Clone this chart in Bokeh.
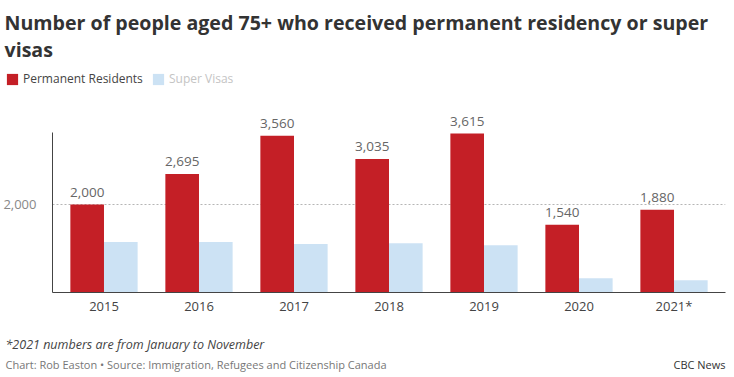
from bokeh.plotting import figure
from bokeh.layouts import column
from bokeh.models import (FactorRange, Range1d, FixedTicker, Label, Legend, LegendItem,
                          ColumnDataSource, NumeralTickFormatter)
from bokeh.transform import dodge
from bokeh.core.properties import value
from bokeh.embed import file_html
from bokeh.resources import INLINE

years = ["2015", "2016", "2017", "2018", "2019", "2020", "2021*"]
permanent_residents = [2000, 2695, 3560, 3035, 3615, 1540, 1880]
super_visas = [1145, 1145, 1100, 1120, 1075, 325, 280]
y_ticks = [2000]

title_lines = ["Number of people aged 75+ who received permanent residency or super", "visas"]
series_names = ["Permanent Residents", "Super Visas"]
footnote = "*2021 numbers are from January to November"
source = "Chart: Rob Easton \u2022 Source: Immigration, Refugees and Citizenship Canada"
brand = "CBC News"

RED = "#c41f26"
BLUE = "#cce2f4"
FONT = "Open Sans"
TITLE_FONT = "Open Sans"
W = 734
SHIFT = 4  # baseline correction


def blank_fig(h):
    f = figure(width=W, height=h, x_range=Range1d(0, W), y_range=Range1d(h, 0),
               output_backend="svg", toolbar_location=None, title=None,
               x_axis_location=None, y_axis_location=None,
               min_border=0, min_border_left=0, min_border_right=0,
               min_border_top=0, min_border_bottom=0)
    f.frame_align = False
    f.outline_line_color = None
    f.xgrid.visible = False
    f.ygrid.visible = False
    f.background_fill_color = "white"
    f.border_fill_color = "white"
    return f


def add_text(f, txt, x, y, size, color, style="normal", align="left", font=FONT):
    f.add_layout(Label(x=x, y=y - SHIFT, text=txt, text_font=font, text_font_size=size,
                       text_color=color, text_font_style=style, text_align=align,
                       text_baseline="alphabetic"))


# ---------- header: title + legend ----------
HH = 100
header = blank_fig(HH)
add_text(header, title_lines[0], 4, 26, "19.6px", "#333333", style="bold", font=TITLE_FONT)
add_text(header, title_lines[1], 4, 53, "19.6px", "#333333", style="bold", font=TITLE_FONT)

# legend swatch renderers (one off-canvas datum each, only used for the legend swatches)
sw_pr = ColumnDataSource(dict(x=[-100], top=[-100]))
sw_sv = ColumnDataSource(dict(x=[-100], top=[-100]))
h_pr = header.vbar(x="x", top="top", width=1, source=sw_pr, fill_color=RED, line_color=None)
h_sv = header.vbar(x="x", top="top", width=1, source=sw_sv, fill_color=BLUE, line_color=None)


def mk_legend(label, rend, color, x, y_bottom):
    lg = Legend(items=[LegendItem(label=label, renderers=[rend])],
                location=(x, HH - y_bottom), orientation="horizontal",
                glyph_width=14, glyph_height=14, label_height=14, label_standoff=4,
                padding=0, margin=0, spacing=0, border_line_color=None,
                background_fill_alpha=0, label_text_font=FONT,
                label_text_font_size="12px", label_text_color=color)
    header.add_layout(lg, "center")


mk_legend(series_names[0], h_pr, "#444444", 5, 87)
mk_legend(series_names[1], h_sv, "#c4c4c4", 151, 87)

# ---------- main chart ----------
MH = 232
LEFT, RIGHT = 46, 725
FRAME_BOTTOM = 192  # within main figure (canvas y = 292)
SCALE = 0.044       # px per unit
src = ColumnDataSource(dict(
    year=years, pr=permanent_residents, sv=super_visas,
    pr_label=[f"{v:,}" for v in permanent_residents],
))

p = figure(width=W, height=MH, x_range=FactorRange(*years, range_padding=0.012),
           y_range=Range1d(0, FRAME_BOTTOM / SCALE), output_backend="svg",
           toolbar_location=None, title=None,
           min_border_left=LEFT, min_border_right=W - RIGHT,
           min_border_top=0, min_border_bottom=MH - FRAME_BOTTOM)
p.frame_align = False
p.outline_line_color = None
p.background_fill_color = "white"
p.border_fill_color = "white"

bw = 0.354
p.vbar(x=dodge("year", -bw / 2, range=p.x_range), top="pr", width=bw, source=src,
       fill_color=RED, line_color=None)
p.vbar(x=dodge("year", bw / 2, range=p.x_range), top="sv", width=bw, source=src,
       fill_color=BLUE, line_color=None)

p.text(x=dodge("year", -bw / 2, range=p.x_range), y="pr", text="pr_label", source=src,
       text_align="center", text_baseline="alphabetic", y_offset=-8 - SHIFT,
       text_font=value(FONT), text_font_size="13.5px", text_color="#666666")

p.yaxis.ticker = FixedTicker(ticks=y_ticks)
p.yaxis.bounds = (0, 3636)
p.yaxis.formatter = NumeralTickFormatter(format="0,0")
p.yaxis.major_tick_line_color = None
p.yaxis.minor_tick_line_color = None
p.yaxis.axis_line_color = "#444444"
p.yaxis.major_label_text_font = FONT
p.yaxis.major_label_text_font_size = "13px"
p.yaxis.major_label_text_color = "#888888"
p.yaxis.major_label_standoff = 10

p.xaxis.major_tick_line_color = None
p.xaxis.minor_tick_line_color = None
p.xaxis.axis_line_color = "#444444"
p.xaxis.major_label_text_font = FONT
p.xaxis.major_label_text_font_size = "13px"
p.xaxis.major_label_text_color = "#444444"
p.xaxis.major_label_standoff = -2

p.xgrid.grid_line_color = None
p.ygrid.ticker = FixedTicker(ticks=y_ticks)
p.ygrid.grid_line_color = "#b5b5b5"
p.ygrid.grid_line_dash = "2 2"

# ---------- footer ----------
TOP_FOOT = HH + MH
FH = 377 - TOP_FOOT
footer = blank_fig(FH)
add_text(footer, footnote, 5, 348 - TOP_FOOT, "12.5px", "#444444", style="italic")
add_text(footer, source, 5, 368 - TOP_FOOT, "11px", "#777777")
add_text(footer, brand, 725, 368 - TOP_FOOT, "11px", "#333333", align="right")

layout = column(header, p, footer, spacing=0)
open("out.html", "w").write(file_html(layout, INLINE))
